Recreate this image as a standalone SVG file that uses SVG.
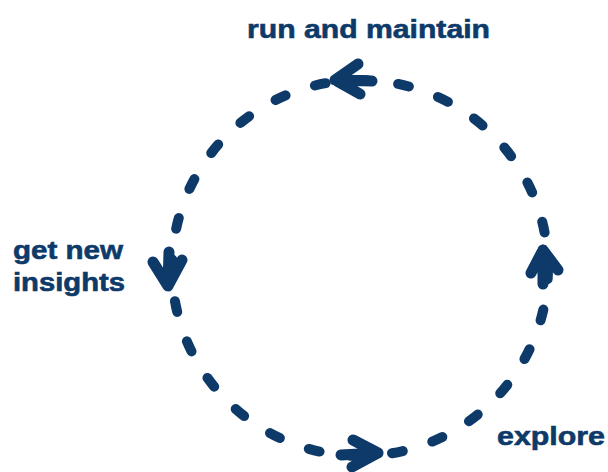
<svg xmlns="http://www.w3.org/2000/svg" width="608" height="472" viewBox="0 0 608 472">
<style>
.lbl{font-family:"Liberation Sans",Arial,sans-serif;font-weight:bold;font-size:26px;fill:#0e3a6a;stroke:#0e3a6a;stroke-width:0.6}
.ring{fill:none;stroke:#0e3a6a;stroke-width:10;stroke-linecap:round;stroke-dasharray:11 31}
.arr{fill:none;stroke:#0e3a6a;stroke-width:11;stroke-linecap:round;stroke-linejoin:round}
</style>
<rect width="608" height="472" fill="#ffffff"/>
<g id="connectors">
<circle class="ring" cx="360" cy="268" r="188"/>
<path class="arr" d="M372,81 L335,80 M358,64 L335,80 L360,94"/>
<path class="arr" d="M169,252 L168,286 M153,262 L168,286 L182,260"/>
<path class="arr" d="M543,284 L543,250 M531,273 L543,250 L558,270"/>
<path class="arr" d="M341,455 L378,453 M353,440 L378,453 L352,467"/>
</g>
<g id="run-and-maintain"><text class="lbl" x="247" y="38" textLength="243" lengthAdjust="spacingAndGlyphs">run and maintain</text></g>
<g id="get-new-insights"><text class="lbl" x="13" y="259" textLength="110" lengthAdjust="spacingAndGlyphs">get new</text><text class="lbl" x="13" y="291" textLength="112" lengthAdjust="spacingAndGlyphs">insights</text></g>
<g id="explore"><text class="lbl" x="497" y="445" textLength="108" lengthAdjust="spacingAndGlyphs">explore</text></g>
</svg>
